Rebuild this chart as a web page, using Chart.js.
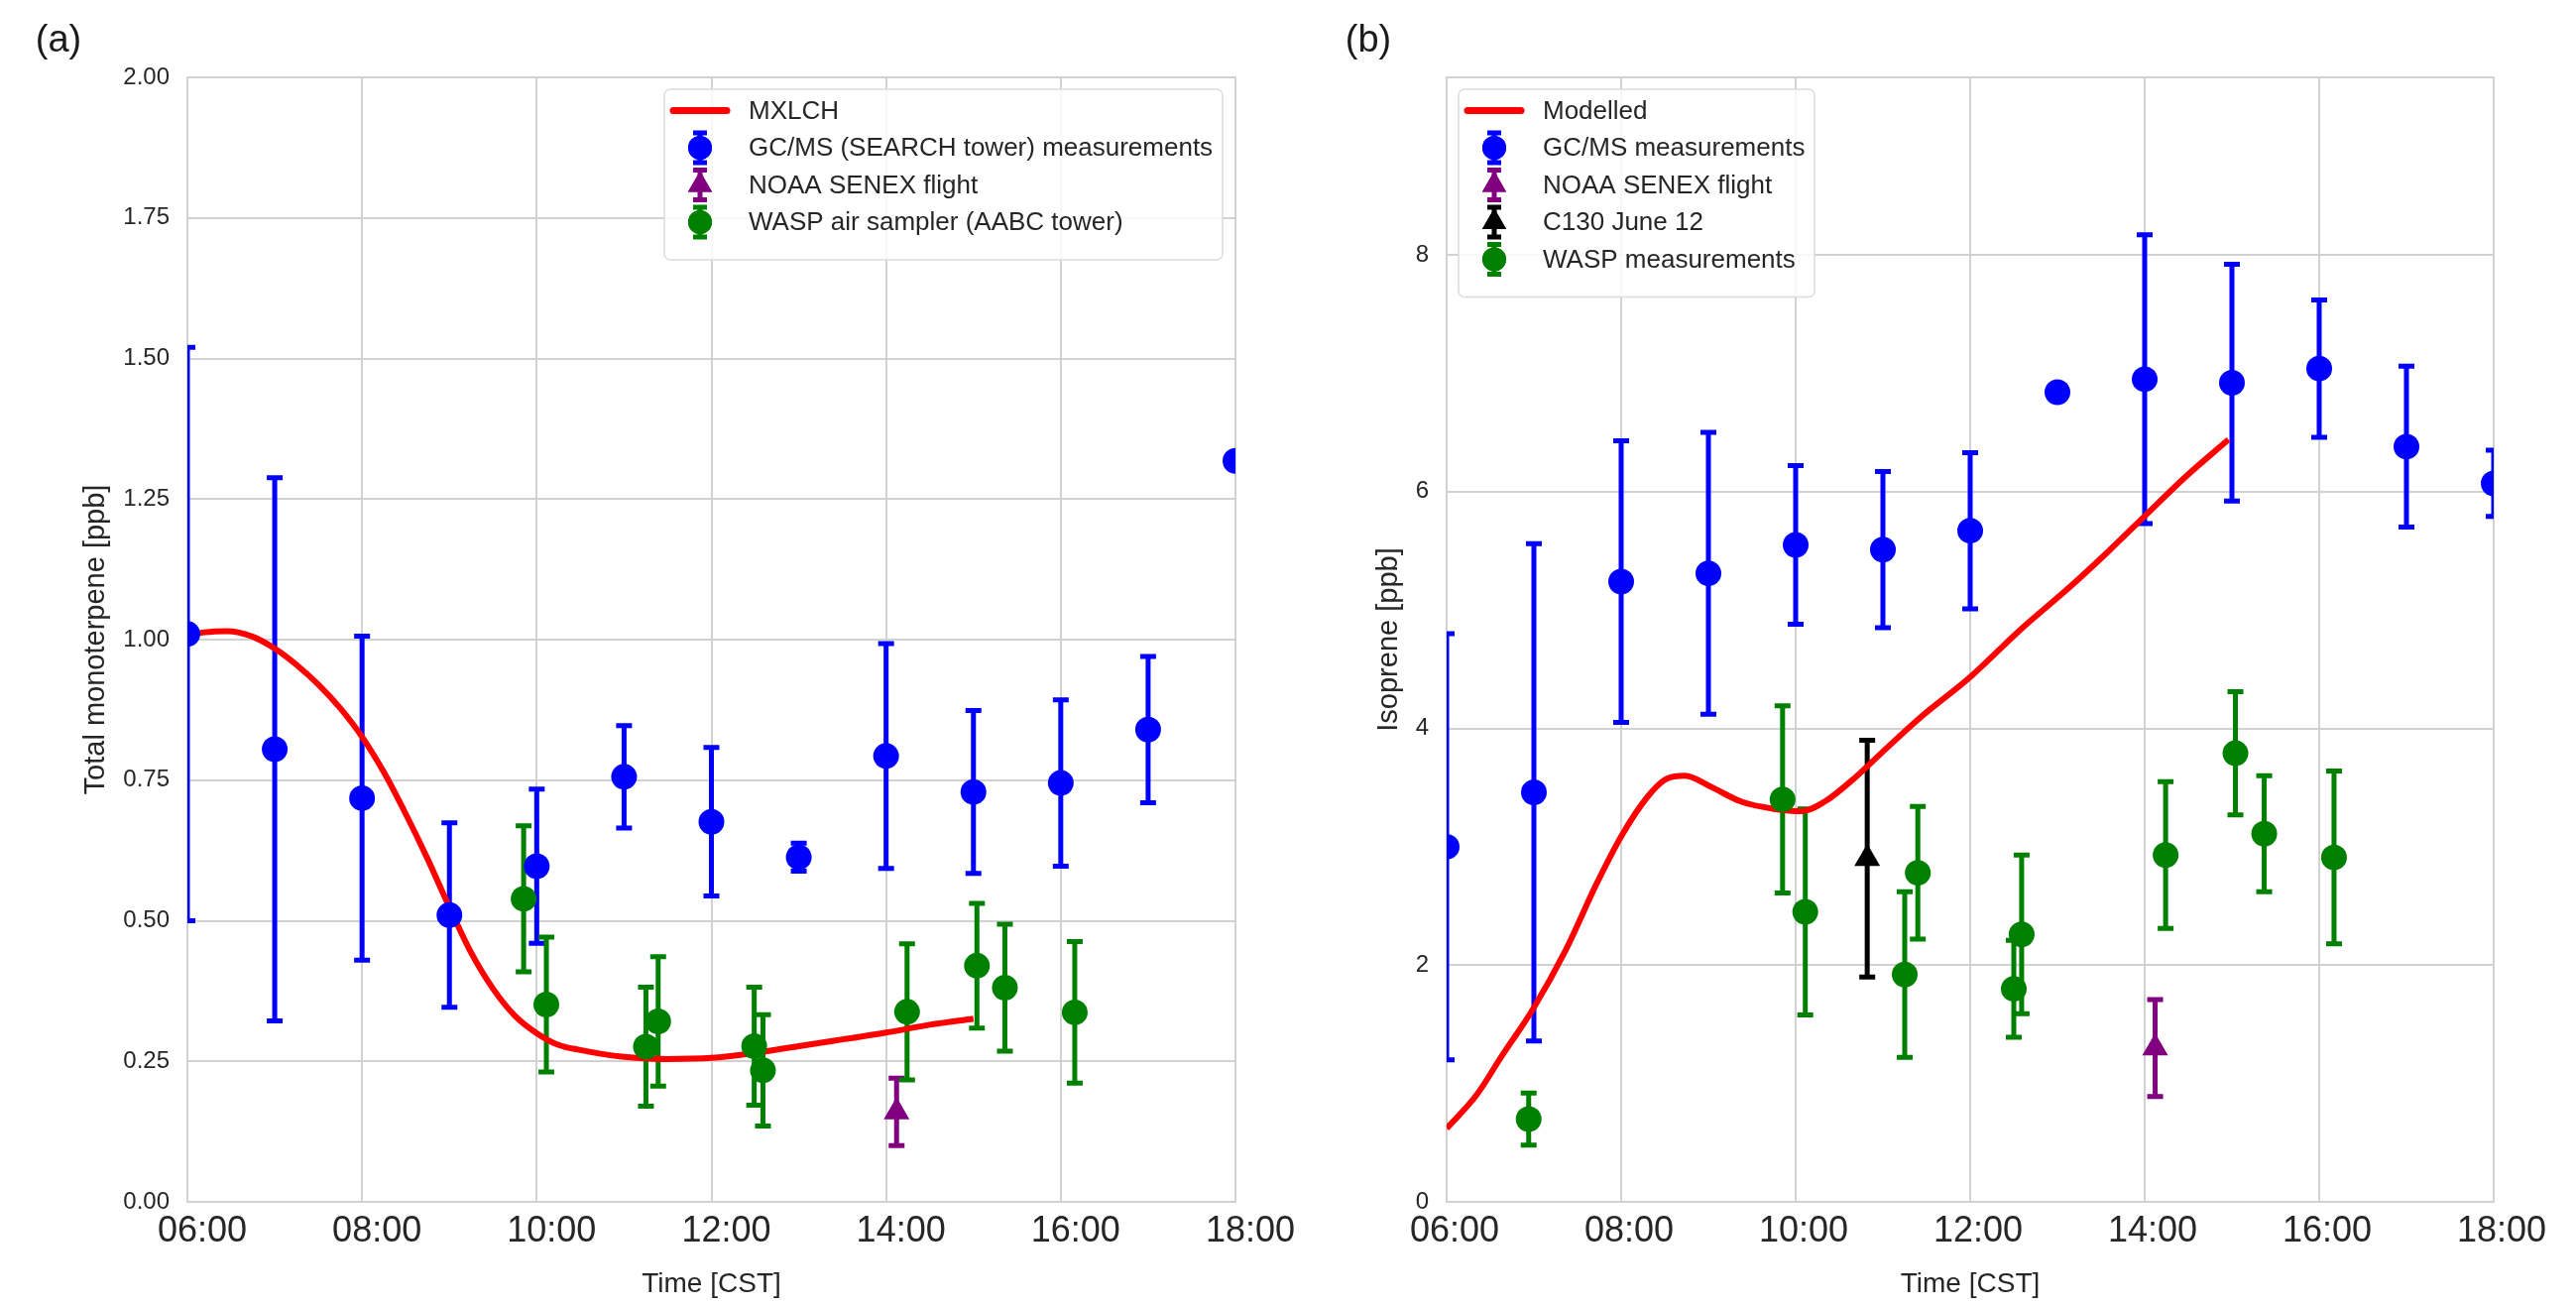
<!DOCTYPE html>
<html>
<head>
<meta charset="utf-8">
<script src="https://cdn.jsdelivr.net/npm/chart.js@4.4.0/dist/chart.umd.min.js"></script>
<style>
  html, body { margin: 0; padding: 0; background: #fff; }
  #wrap { position: relative; width: 2598px; height: 1317px; overflow: hidden; }
  #chartA { position: absolute; left: 0; top: 0; }
  #chartB { position: absolute; left: 1299px; top: 0; }
</style>
</head>
<body>
<div id="wrap">
  <canvas id="chartA" width="1340" height="1317"></canvas>
  <canvas id="chartB" width="1299" height="1317"></canvas>
</div>
<script>
// ---- panel (a): total monoterpene ----
const modelHoursA = [6.0, 6.2, 6.45, 6.75, 7.0, 7.25, 7.5, 7.75, 8.0, 8.25, 8.5, 8.75, 9.0, 9.25, 9.5, 9.75,
                     10.0, 10.25, 10.5, 10.75, 11.0, 11.5, 12.0, 12.5, 13.0, 13.5, 14.0, 14.5, 15.0];
const modelMonoterpene = [1.007, 1.013, 1.015, 1.005, 0.984, 0.955, 0.92, 0.878, 0.827, 0.764, 0.69, 0.61, 0.524, 0.443, 0.379, 0.331,
                          0.300, 0.279, 0.270, 0.263, 0.258, 0.254, 0.256, 0.265, 0.277, 0.289, 0.301, 0.315, 0.326];

const gcmsHoursA = [6, 7, 8, 9, 10, 11, 12, 13, 14, 15, 16, 17, 18];
const gcmsMonoterpene = [1.01, 0.805, 0.718, 0.51, 0.597, 0.756, 0.676, 0.613, 0.793, 0.729, 0.745, 0.84, 1.318];
const gcmsMonoterpeneErr = [0.51, 0.483, 0.288, 0.164, 0.137, 0.091, 0.132, 0.025, 0.2, 0.145, 0.148, 0.13, 0];

const noaaHoursA = [14.12];
const noaaMonoterpene = [0.16];
const noaaMonoterpeneErr = [0.06];

const waspHoursA = [9.85, 10.11, 11.25, 11.39, 12.49, 12.59, 14.24, 15.04, 15.36, 16.16];
const waspMonoterpene = [0.539, 0.351, 0.276, 0.321, 0.277, 0.234, 0.338, 0.42, 0.381, 0.337];
const waspMonoterpeneErr = [0.13, 0.12, 0.106, 0.115, 0.105, 0.099, 0.121, 0.111, 0.113, 0.126];

// ---- panel (b): isoprene ----
const modelHoursB = [6.0, 6.34, 6.63, 6.99, 7.36, 7.72, 8.01, 8.30, 8.51, 8.73, 9.02, 9.38, 9.75, 10.07, 10.33,
                     10.69, 10.98, 11.41, 12.01, 12.57, 13.15, 13.59, 14.01, 14.46, 14.96];
const modelIsoprene = [0.62, 0.90, 1.23, 1.63, 2.12, 2.69, 3.10, 3.42, 3.57, 3.60, 3.51, 3.38, 3.32, 3.30, 3.38,
                       3.59, 3.79, 4.08, 4.44, 4.83, 5.20, 5.50, 5.80, 6.12, 6.44];

const gcmsHoursB = [6, 7, 8, 9, 10, 11, 12, 13, 14, 15, 16, 17, 18];
const gcmsIsoprene = [3.0, 3.46, 5.24, 5.31, 5.55, 5.51, 5.67, 6.84, 6.95, 6.92, 7.04, 6.38, 6.07];
const gcmsIsopreneErr = [1.8, 2.1, 1.19, 1.19, 0.67, 0.66, 0.66, 0, 1.22, 1.0, 0.58, 0.68, 0.28];

const noaaHoursB = [14.12];
const noaaIsoprene = [1.30];
const noaaIsopreneErr = [0.41];

const c130Hours = [10.82];
const c130Isoprene = [2.90];
const c130IsopreneErr = [1.0];

const waspHoursB = [6.94, 9.85, 10.11, 11.25, 11.40, 12.50, 12.59, 14.24, 15.04, 15.37, 16.17];
const waspIsoprene = [0.70, 3.40, 2.45, 1.92, 2.78, 1.80, 2.26, 2.93, 3.79, 3.11, 2.91];
const waspIsopreneErr = [0.22, 0.79, 0.87, 0.70, 0.56, 0.41, 0.67, 0.62, 0.52, 0.49, 0.73];

const SANS = '"Liberation Sans", Arial, sans-serif';
const TEXT = '#262626';
const GRID = '#d2d2d2';

function pts(xs, ys) {
    return xs.map((x, i) => ({ x: x, y: ys[i] }));
}

// vertical error bars with caps, drawn through the chart's own scales
const errorBars = {
    id: 'errorBars',
    beforeDatasetsDraw(chart) {
        const { ctx, chartArea: a, scales: { x, y } } = chart;
        ctx.save();
        ctx.beginPath();
        ctx.rect(a.left, a.top, a.right - a.left, a.bottom - a.top);
        ctx.clip();
        ctx.lineWidth = 5;
        chart.data.datasets.forEach(ds => {
            if (!ds.errors) return;
            ctx.strokeStyle = ds.backgroundColor;
            ds.data.forEach((p, i) => {
                const e = ds.errors[i];
                if (!e) return;
                const px = x.getPixelForValue(p.x);
                const top = y.getPixelForValue(p.y + e);
                const bot = y.getPixelForValue(p.y - e);
                ctx.beginPath();
                ctx.moveTo(px, top); ctx.lineTo(px, bot);
                ctx.moveTo(px - 8, top); ctx.lineTo(px + 8, top);
                ctx.moveTo(px - 8, bot); ctx.lineTo(px + 8, bot);
                ctx.stroke();
            });
        });
        ctx.restore();
    }
};

// light frame around the plot area (seaborn whitegrid spines)
const frame = {
    id: 'frame',
    beforeDatasetsDraw(chart) {
        const { ctx, chartArea: a } = chart;
        ctx.save();
        ctx.strokeStyle = GRID;
        ctx.lineWidth = 2;
        ctx.strokeRect(a.left, a.top, a.right - a.left, a.bottom - a.top);
        ctx.restore();
    }
};

// matplotlib-like legend box inside the axes
const boxLegend = {
    id: 'boxLegend',
    afterDatasetsDraw(chart, args, opts) {
        const { ctx, chartArea: a } = chart;
        const left = opts.side === 'right' ? a.right - opts.margin - opts.width : a.left + opts.margin;
        const top = a.top + 12;
        const h = 30 + opts.items.length * 37.5 - 8;
        ctx.save();
        ctx.beginPath();
        ctx.roundRect(left, top, opts.width, h, 6);
        ctx.fillStyle = 'rgba(255,255,255,0.85)';
        ctx.fill();
        ctx.strokeStyle = '#dcdcdc';
        ctx.lineWidth = 1.5;
        ctx.stroke();
        opts.items.forEach((it, i) => {
            const cy = top + 21.5 + i * 37.5;
            const cx = left + 36;
            ctx.strokeStyle = it.color;
            ctx.fillStyle = it.color;
            if (it.kind === 'line') {
                ctx.lineWidth = 7;
                ctx.lineCap = 'round';
                ctx.beginPath();
                ctx.moveTo(cx - 27, cy); ctx.lineTo(cx + 27, cy);
                ctx.stroke();
            } else {
                ctx.lineWidth = 5;
                ctx.lineCap = 'butt';
                ctx.beginPath();
                ctx.moveTo(cx, cy - 15); ctx.lineTo(cx, cy + 15);
                ctx.moveTo(cx - 7, cy - 15); ctx.lineTo(cx + 7, cy - 15);
                ctx.moveTo(cx - 7, cy + 15); ctx.lineTo(cx + 7, cy + 15);
                ctx.stroke();
                Chart.helpers.drawPoint(ctx, { pointStyle: it.kind, radius: it.kind === 'triangle' ? 14 : 12, borderWidth: 0, rotation: 0 }, cx, cy);
                ctx.fill();
            }
            ctx.fillStyle = TEXT;
            ctx.font = '26px ' + SANS;
            ctx.textBaseline = 'middle';
            ctx.textAlign = 'left';
            ctx.fillText(it.text, left + 85, cy + 1);
        });
        ctx.restore();
    }
};

const panelLabel = {
    id: 'panelLabel',
    afterDraw(chart, args, opts) {
        const ctx = chart.ctx;
        ctx.save();
        ctx.fillStyle = '#1a1a1a';
        ctx.font = '38px ' + SANS;
        ctx.textAlign = 'center';
        ctx.textBaseline = 'middle';
        ctx.fillText(opts.text, opts.x, opts.y);
        ctx.restore();
    }
};

function scatterSet(label, xs, ys, errs, color, style, radius) {
    return {
        label: label,
        data: pts(xs, ys),
        errors: errs,
        backgroundColor: color,
        borderColor: color,
        borderWidth: 0,
        pointStyle: style,
        pointRadius: radius,
        clip: 0,
        order: 1
    };
}

function modelSet(label, xs, ys) {
    return {
        label: label,
        data: pts(xs, ys),
        showLine: true,
        borderColor: '#ff0000',
        backgroundColor: '#ff0000',
        borderWidth: 6,
        pointRadius: 0,
        cubicInterpolationMode: 'monotone',
        clip: 0,
        order: 3
    };
}

function panelOptions(cfg) {
    return {
        responsive: false,
        devicePixelRatio: 1,
        animation: false,
        events: [],
        layout: { padding: { left: 0, top: 78, right: cfg.padRight, bottom: 0 } },
        scales: {
            x: {
                type: 'linear',
                min: 6,
                max: 18,
                grid: { color: GRID, lineWidth: 2, drawTicks: false },
                border: { color: GRID, width: 2 },
                ticks: {
                    stepSize: 2,
                    padding: 8,
                    labelOffset: cfg.labelOffset,
                    color: TEXT,
                    font: { family: SANS, size: 36 },
                    callback: v => (v < 10 ? '0' : '') + v + ':00'
                },
                title: {
                    display: true,
                    text: 'Time [CST]',
                    color: TEXT,
                    font: { family: SANS, size: 28 },
                    padding: { top: 0, bottom: 5 }
                },
                afterFit: s => { s.height = 105; }
            },
            y: {
                min: 0,
                max: cfg.yMax,
                grid: { color: GRID, lineWidth: 2, drawTicks: false },
                border: { color: GRID, width: 2 },
                ticks: {
                    stepSize: cfg.yStep,
                    includeBounds: false,
                    padding: 18,
                    color: TEXT,
                    font: { family: SANS, size: 24 },
                    callback: cfg.yFormat
                },
                title: {
                    display: true,
                    text: cfg.yTitle,
                    color: TEXT,
                    font: { family: SANS, size: 29 },
                    padding: { top: cfg.titlePad, bottom: 0 }
                },
                afterFit: s => { s.width = cfg.axisWidth; }
            }
        },
        plugins: {
            legend: { display: false },
            tooltip: { enabled: false },
            boxLegend: cfg.legend,
            panelLabel: cfg.label
        }
    };
}

new Chart(document.getElementById('chartA').getContext('2d'), {
    type: 'scatter',
    data: {
        datasets: [
            modelSet('MXLCH', modelHoursA, modelMonoterpene),
            scatterSet('GC/MS (SEARCH tower) measurements', gcmsHoursA, gcmsMonoterpene, gcmsMonoterpeneErr, '#0000ff', 'circle', 13),
            scatterSet('NOAA SENEX flight', noaaHoursA, noaaMonoterpene, noaaMonoterpeneErr, '#800080', 'triangle', 15),
            scatterSet('WASP air sampler (AABC tower)', waspHoursA, waspMonoterpene, waspMonoterpeneErr, '#008000', 'circle', 13)
        ]
    },
    options: panelOptions({
        padRight: 94,
        axisWidth: 189,
        titlePad: 80,
        labelOffset: 15,
        yMax: 2,
        yStep: 0.25,
        yFormat: v => v.toFixed(2),
        yTitle: 'Total monoterpene [ppb]',
        legend: {
            side: 'right', margin: 13, width: 563,
            items: [
                { kind: 'line', color: '#ff0000', text: 'MXLCH' },
                { kind: 'circle', color: '#0000ff', text: 'GC/MS (SEARCH tower) measurements' },
                { kind: 'triangle', color: '#800080', text: 'NOAA SENEX flight' },
                { kind: 'circle', color: '#008000', text: 'WASP air sampler (AABC tower)' }
            ]
        },
        label: { text: '(a)', x: 59, y: 42 }
    }),
    plugins: [frame, errorBars, boxLegend, panelLabel]
});

new Chart(document.getElementById('chartB').getContext('2d'), {
    type: 'scatter',
    data: {
        datasets: [
            modelSet('Modelled', modelHoursB, modelIsoprene),
            scatterSet('GC/MS measurements', gcmsHoursB, gcmsIsoprene, gcmsIsopreneErr, '#0000ff', 'circle', 13),
            scatterSet('NOAA SENEX flight', noaaHoursB, noaaIsoprene, noaaIsopreneErr, '#800080', 'triangle', 15),
            scatterSet('C130 June 12', c130Hours, c130Isoprene, c130IsopreneErr, '#000000', 'triangle', 15),
            scatterSet('WASP measurements', waspHoursB, waspIsoprene, waspIsopreneErr, '#008000', 'circle', 13)
        ]
    },
    options: panelOptions({
        padRight: 83,
        axisWidth: 160,
        titlePad: 85,
        labelOffset: 8,
        yMax: 9.5,
        yStep: 2,
        yFormat: v => String(v),
        yTitle: 'Isoprene [ppb]',
        legend: {
            side: 'left', margin: 12, width: 359,
            items: [
                { kind: 'line', color: '#ff0000', text: 'Modelled' },
                { kind: 'circle', color: '#0000ff', text: 'GC/MS measurements' },
                { kind: 'triangle', color: '#800080', text: 'NOAA SENEX flight' },
                { kind: 'triangle', color: '#000000', text: 'C130 June 12' },
                { kind: 'circle', color: '#008000', text: 'WASP measurements' }
            ]
        },
        label: { text: '(b)', x: 81, y: 42 }
    }),
    plugins: [frame, errorBars, boxLegend, panelLabel]
});
</script>
</body>
</html>
